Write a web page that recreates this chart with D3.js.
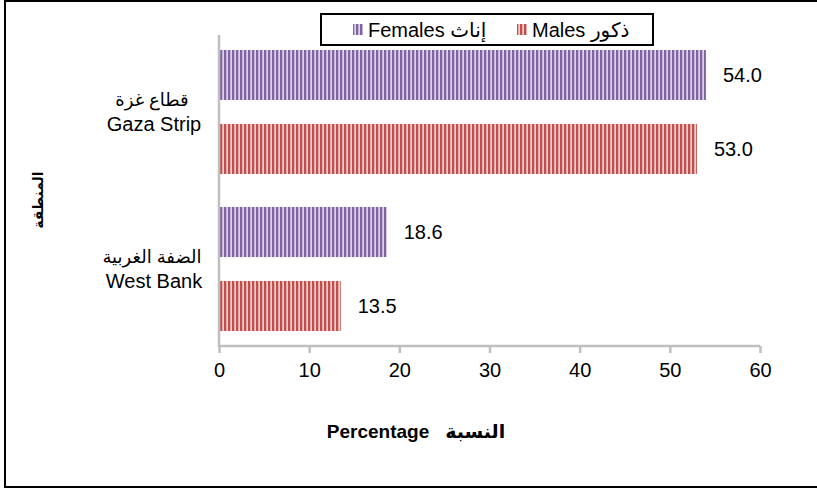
<!DOCTYPE html>
<html>
<head>
<meta charset="utf-8">
<script src="https://cdn.jsdelivr.net/npm/d3@7"></script>
<style>
  html, body { margin: 0; padding: 0; background: #fff; }
  svg { display: block; }
  text { font-family: "Liberation Sans", Arial, "DejaVu Sans", sans-serif; fill: #000; }
</style>
</head>
<body>
<svg id="chart" width="817" height="489"></svg>
<script>
// ---- data ----
const regions = ["Gaza Strip", "West Bank"];
const regionLabelsAr = ["قطاع غزة", "الضفة الغربية"];
const seriesNames = ["Females", "Males"];
const seriesLabels = ["Females إناث", "Males ذكور"];
const females = [54.0, 18.6];
const males = [53.0, 13.5];
const xTicks = [0, 10, 20, 30, 40, 50, 60];
const xTitle = "Percentage   النسبة";
const yTitle = "المنطقة";

const seriesValues = { Females: females, Males: males };
const colors = {
  Females: { dark: "#8064A2", light: "#DCD3EA" },
  Males: { dark: "#C0504D", light: "#F2CDCC" }
};

const svg = d3.select("#chart");

// patterns
const defs = svg.append("defs");
seriesNames.forEach(s => {
  const p = defs.append("pattern")
    .attr("id", "pat-" + s)
    .attr("patternUnits", "userSpaceOnUse")
    .attr("width", 4).attr("height", 4);
  p.append("rect").attr("width", 4).attr("height", 4).attr("fill", colors[s].light);
  p.append("rect").attr("x", 0).attr("width", 2).attr("height", 4).attr("fill", colors[s].dark);
  p.append("rect").attr("x", 2).attr("width", 0.8).attr("height", 4).attr("fill", colors[s].dark).attr("opacity", 0.35);
});

// outer border
svg.append("rect")
  .attr("x", 5).attr("y", 1)
  .attr("width", 820).attr("height", 486)
  .attr("fill", "none").attr("stroke", "#000").attr("stroke-width", 2);

// scales
const x = d3.scaleLinear().domain([0, 60]).range([219, 760]);
const y0 = d3.scaleBand().domain(regions).range([35, 346])
  .paddingInner(33 / 157).paddingOuter(15 / 157);
const y1 = d3.scaleBand().domain(seriesNames).range([0, y0.bandwidth()])
  .paddingInner(0.324).paddingOuter(0);

// bars
const groups = svg.append("g").selectAll("g")
  .data(regions)
  .join("g")
  .attr("transform", d => `translate(0,${y0(d)})`);

groups.each(function(region, ri) {
  const g = d3.select(this);
  seriesNames.forEach(s => {
    const v = seriesValues[s][ri];
    g.append("rect")
      .attr("x", x(0))
      .attr("y", y1(s))
      .attr("width", x(v) - x(0))
      .attr("height", y1.bandwidth())
      .attr("fill", `url(#pat-${s})`);
    g.append("text")
      .attr("x", x(v) + 17)
      .attr("y", y1(s) + y1.bandwidth() / 2)
      .attr("dominant-baseline", "central")
      .attr("font-size", 20)
      .text(v.toFixed(1));
  });
});

// y axis line
svg.append("line")
  .attr("x1", x(0)).attr("x2", x(0))
  .attr("y1", 35).attr("y2", 347)
  .attr("stroke", "#BFBFBF").attr("stroke-width", 2.5);

// x axis
const xAxis = d3.axisBottom(x).tickValues(xTicks).tickSize(7).tickPadding(10)
  .tickFormat(d3.format("d"));
const gx = svg.append("g").attr("transform", "translate(0,346)").call(xAxis);
gx.select(".domain").attr("stroke", "#BFBFBF").attr("stroke-width", 2.5)
  .attr("d", `M${x(0)},0H${x(60)}`);
gx.selectAll(".tick line").attr("stroke", "#BFBFBF").attr("stroke-width", 2.5);
gx.selectAll(".tick text")
  .attr("font-size", 20)
  .attr("font-family", '"Liberation Sans", Arial, sans-serif')
  .attr("fill", "#000");

// category labels
regions.forEach((r, i) => {
  const cy = y0(r) + y0.bandwidth() / 2;
  svg.append("text")
    .attr("x", 152).attr("y", cy - 12)
    .attr("text-anchor", "middle").attr("dominant-baseline", "central")
    .attr("font-size", 18)
    .text(regionLabelsAr[i]);
  svg.append("text")
    .attr("x", 154).attr("y", cy + 12)
    .attr("text-anchor", "middle").attr("dominant-baseline", "central")
    .attr("font-size", 20)
    .text(r);
});

// axis titles
svg.append("text")
  .attr("x", 416).attr("y", 431)
  .attr("text-anchor", "middle").attr("dominant-baseline", "central")
  .attr("font-size", 19).attr("font-weight", "bold")
  .style("white-space", "pre")
  .text(xTitle);

svg.append("text")
  .attr("transform", "translate(38,200) rotate(-90)")
  .attr("text-anchor", "middle").attr("dominant-baseline", "central")
  .attr("font-size", 14).attr("font-weight", "bold")
  .text(yTitle);

// legend
const lg = svg.append("g");
lg.append("rect")
  .attr("x", 321).attr("y", 14).attr("width", 332).attr("height", 31)
  .attr("fill", "#fff").attr("stroke", "#000").attr("stroke-width", 2);
const legendX = [353, 517];
seriesNames.forEach((s, i) => {
  lg.append("rect")
    .attr("x", legendX[i]).attr("y", 24)
    .attr("width", 10).attr("height", 11)
    .attr("fill", `url(#pat-${s})`);
  lg.append("text")
    .attr("x", legendX[i] + 15).attr("y", 30)
    .attr("dominant-baseline", "central")
    .attr("font-size", 20)
    .text(seriesLabels[i]);
});
</script>
</body>
</html>
